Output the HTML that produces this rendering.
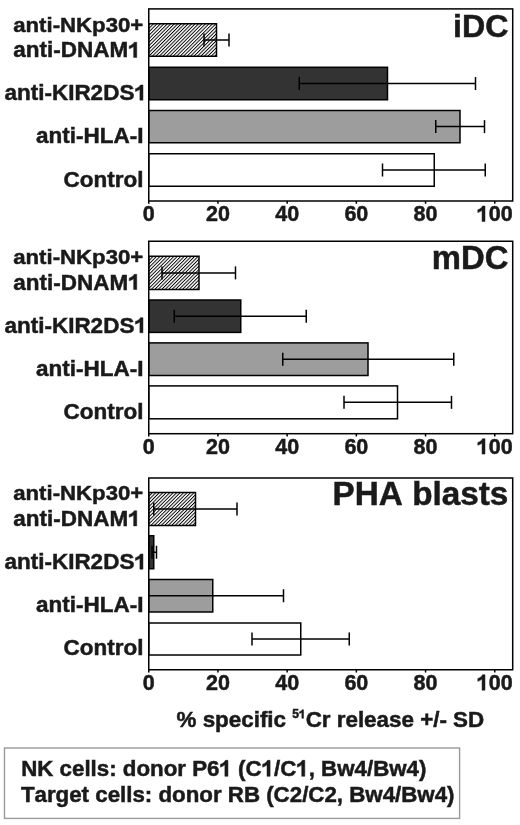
<!DOCTYPE html>
<html><head><meta charset="utf-8"><style>
html,body{margin:0;padding:0;background:#fff;}
body{width:520px;height:825px;overflow:hidden;}
svg{display:block;will-change:transform;}
text{font-family:"Liberation Sans", sans-serif;font-weight:bold;font-kerning:none;fill:#1a1a1a;stroke:#1a1a1a;stroke-width:0.5px;}
.tk{font-size:21.5px;}
.ti{font-size:33.2px;}
.lb{font-size:22.5px;}
.l1{font-size:22.2px;}
.xt{font-size:22.4px;}
.lg{font-size:22.3px;}
.one{fill:transparent;stroke:transparent;}
.o1{fill:#1a1a1a;stroke:#1a1a1a;stroke-width:0.5px;}
</style></head><body>
<svg width="520" height="825" viewBox="0 0 520 825">
<defs>
<pattern id="hatch" patternUnits="userSpaceOnUse" width="2.45" height="2.45" patternTransform="rotate(45)">
<rect width="2.45" height="2.45" fill="#fff"/>
<rect width="0.95" height="2.45" fill="#000"/>
</pattern>
</defs>
<rect width="520" height="825" fill="#fff"/>
<rect x="148.75" y="23.75" width="67.75" height="32.50" fill="url(#hatch)" stroke="#000" stroke-width="1.5"/>
<rect x="148.75" y="67.3" width="238.75" height="32.45" fill="#333333" stroke="#000" stroke-width="1.5"/>
<rect x="148.75" y="110.5" width="311.25" height="32.25" fill="#9d9d9d" stroke="#000" stroke-width="1.5"/>
<rect x="148.75" y="153.75" width="285.50" height="32.50" fill="#ffffff" stroke="#000" stroke-width="1.5"/>
<line x1="204.0" y1="40.00" x2="229.0" y2="40.00" stroke="#000" stroke-width="1.5"/>
<line x1="204.0" y1="33.50" x2="204.0" y2="46.50" stroke="#000" stroke-width="1.5"/>
<line x1="229.0" y1="33.50" x2="229.0" y2="46.50" stroke="#000" stroke-width="1.5"/>
<line x1="299.25" y1="83.53" x2="475.5" y2="83.53" stroke="#000" stroke-width="1.5"/>
<line x1="299.25" y1="77.03" x2="299.25" y2="90.03" stroke="#000" stroke-width="1.5"/>
<line x1="475.5" y1="77.03" x2="475.5" y2="90.03" stroke="#000" stroke-width="1.5"/>
<line x1="435.75" y1="126.62" x2="484.5" y2="126.62" stroke="#000" stroke-width="1.5"/>
<line x1="435.75" y1="120.12" x2="435.75" y2="133.12" stroke="#000" stroke-width="1.5"/>
<line x1="484.5" y1="120.12" x2="484.5" y2="133.12" stroke="#000" stroke-width="1.5"/>
<line x1="382.5" y1="170.00" x2="485.25" y2="170.00" stroke="#000" stroke-width="1.5"/>
<line x1="382.5" y1="163.50" x2="382.5" y2="176.50" stroke="#000" stroke-width="1.5"/>
<line x1="485.25" y1="163.50" x2="485.25" y2="176.50" stroke="#000" stroke-width="1.5"/>
<rect x="148.75" y="8.9" width="363.95" height="192.10" fill="none" stroke="#000" stroke-width="1.5"/>
<line x1="148.75" y1="201.0" x2="148.75" y2="203.8" stroke="#000" stroke-width="1.5"/>
<text transform="translate(148.75 221.40) scale(1 1.0)" x="0" y="0" text-anchor="middle" class="tk">0</text>
<line x1="217.95" y1="201.0" x2="217.95" y2="203.8" stroke="#000" stroke-width="1.5"/>
<text transform="translate(217.95 221.40) scale(1 1.0)" x="0" y="0" text-anchor="middle" class="tk">20</text>
<line x1="287.15" y1="201.0" x2="287.15" y2="203.8" stroke="#000" stroke-width="1.5"/>
<text transform="translate(287.15 221.40) scale(1 1.0)" x="0" y="0" text-anchor="middle" class="tk">40</text>
<line x1="356.35" y1="201.0" x2="356.35" y2="203.8" stroke="#000" stroke-width="1.5"/>
<text transform="translate(356.35 221.40) scale(1 1.0)" x="0" y="0" text-anchor="middle" class="tk">60</text>
<line x1="425.55" y1="201.0" x2="425.55" y2="203.8" stroke="#000" stroke-width="1.5"/>
<text transform="translate(425.55 221.40) scale(1 1.0)" x="0" y="0" text-anchor="middle" class="tk">80</text>
<line x1="494.75" y1="201.0" x2="494.75" y2="203.8" stroke="#000" stroke-width="1.5"/>
<text transform="translate(494.75 221.40) scale(1 1.0)" x="0" y="0" text-anchor="middle" class="tk"><tspan class="one">1</tspan>00</text>
<text transform="translate(508.40 36.60) scale(1 1.0)" x="0" y="0" text-anchor="end" class="ti" style="font-size:32.2px">iDC</text>
<text transform="translate(13.20 31.65) scale(1 0.94)" x="0" y="0" class="lb l1">anti-NKp30<tspan dy="0.7">+</tspan></text>
<text transform="translate(13.20 57.40) scale(1 0.94)" x="0" y="0" class="lb">anti-DNAM<tspan class="one">1</tspan></text>
<text transform="translate(146.90 100.15) scale(1 0.94)" x="0" y="0" text-anchor="end" class="lb">anti-KIR2DS<tspan class="one">1</tspan></text>
<text transform="translate(143.50 143.15) scale(1 0.94)" x="0" y="0" text-anchor="end" class="lb">anti-HLA-I</text>
<text transform="translate(143.50 186.65) scale(1 0.94)" x="0" y="0" text-anchor="end" class="lb">Control</text>
<rect x="148.75" y="256.25" width="50.25" height="33.25" fill="url(#hatch)" stroke="#000" stroke-width="1.5"/>
<rect x="148.75" y="300.0" width="92.00" height="32.40" fill="#333333" stroke="#000" stroke-width="1.5"/>
<rect x="148.75" y="342.9" width="219.25" height="32.60" fill="#9d9d9d" stroke="#000" stroke-width="1.5"/>
<rect x="148.75" y="385.9" width="248.75" height="32.90" fill="#ffffff" stroke="#000" stroke-width="1.5"/>
<line x1="162.0" y1="272.88" x2="235.5" y2="272.88" stroke="#000" stroke-width="1.5"/>
<line x1="162.0" y1="266.38" x2="162.0" y2="279.38" stroke="#000" stroke-width="1.5"/>
<line x1="235.5" y1="266.38" x2="235.5" y2="279.38" stroke="#000" stroke-width="1.5"/>
<line x1="174.25" y1="316.20" x2="306.25" y2="316.20" stroke="#000" stroke-width="1.5"/>
<line x1="174.25" y1="309.70" x2="174.25" y2="322.70" stroke="#000" stroke-width="1.5"/>
<line x1="306.25" y1="309.70" x2="306.25" y2="322.70" stroke="#000" stroke-width="1.5"/>
<line x1="282.75" y1="359.20" x2="453.75" y2="359.20" stroke="#000" stroke-width="1.5"/>
<line x1="282.75" y1="352.70" x2="282.75" y2="365.70" stroke="#000" stroke-width="1.5"/>
<line x1="453.75" y1="352.70" x2="453.75" y2="365.70" stroke="#000" stroke-width="1.5"/>
<line x1="344.0" y1="402.35" x2="451.5" y2="402.35" stroke="#000" stroke-width="1.5"/>
<line x1="344.0" y1="395.85" x2="344.0" y2="408.85" stroke="#000" stroke-width="1.5"/>
<line x1="451.5" y1="395.85" x2="451.5" y2="408.85" stroke="#000" stroke-width="1.5"/>
<rect x="148.75" y="241.25" width="363.95" height="192.45" fill="none" stroke="#000" stroke-width="1.5"/>
<line x1="148.75" y1="433.7" x2="148.75" y2="436.5" stroke="#000" stroke-width="1.5"/>
<text transform="translate(148.75 454.10) scale(1 1.0)" x="0" y="0" text-anchor="middle" class="tk">0</text>
<line x1="217.95" y1="433.7" x2="217.95" y2="436.5" stroke="#000" stroke-width="1.5"/>
<text transform="translate(217.95 454.10) scale(1 1.0)" x="0" y="0" text-anchor="middle" class="tk">20</text>
<line x1="287.15" y1="433.7" x2="287.15" y2="436.5" stroke="#000" stroke-width="1.5"/>
<text transform="translate(287.15 454.10) scale(1 1.0)" x="0" y="0" text-anchor="middle" class="tk">40</text>
<line x1="356.35" y1="433.7" x2="356.35" y2="436.5" stroke="#000" stroke-width="1.5"/>
<text transform="translate(356.35 454.10) scale(1 1.0)" x="0" y="0" text-anchor="middle" class="tk">60</text>
<line x1="425.55" y1="433.7" x2="425.55" y2="436.5" stroke="#000" stroke-width="1.5"/>
<text transform="translate(425.55 454.10) scale(1 1.0)" x="0" y="0" text-anchor="middle" class="tk">80</text>
<line x1="494.75" y1="433.7" x2="494.75" y2="436.5" stroke="#000" stroke-width="1.5"/>
<text transform="translate(494.75 454.10) scale(1 1.0)" x="0" y="0" text-anchor="middle" class="tk"><tspan class="one">1</tspan>00</text>
<text transform="translate(508.40 268.50) scale(1 1.0)" x="0" y="0" text-anchor="end" class="ti" style="font-size:32.8px">mDC</text>
<text transform="translate(13.20 263.70) scale(1 0.94)" x="0" y="0" class="lb l1">anti-NKp30<tspan dy="0.7">+</tspan></text>
<text transform="translate(13.20 289.50) scale(1 0.94)" x="0" y="0" class="lb">anti-DNAM<tspan class="one">1</tspan></text>
<text transform="translate(146.90 332.80) scale(1 0.94)" x="0" y="0" text-anchor="end" class="lb">anti-KIR2DS<tspan class="one">1</tspan></text>
<text transform="translate(143.50 375.90) scale(1 0.94)" x="0" y="0" text-anchor="end" class="lb">anti-HLA-I</text>
<text transform="translate(143.50 419.20) scale(1 0.94)" x="0" y="0" text-anchor="end" class="lb">Control</text>
<rect x="148.75" y="492.5" width="46.75" height="33.00" fill="url(#hatch)" stroke="#000" stroke-width="1.5"/>
<rect x="148.75" y="535.75" width="5.00" height="33.00" fill="#333333" stroke="#000" stroke-width="1.5"/>
<rect x="148.75" y="579.5" width="64.00" height="32.50" fill="#9d9d9d" stroke="#000" stroke-width="1.5"/>
<rect x="148.75" y="623.0" width="152.00" height="32.00" fill="#ffffff" stroke="#000" stroke-width="1.5"/>
<line x1="153.75" y1="509.00" x2="237.0" y2="509.00" stroke="#000" stroke-width="1.5"/>
<line x1="153.75" y1="502.50" x2="153.75" y2="515.50" stroke="#000" stroke-width="1.5"/>
<line x1="237.0" y1="502.50" x2="237.0" y2="515.50" stroke="#000" stroke-width="1.5"/>
<line x1="152.0" y1="552.25" x2="156.5" y2="552.25" stroke="#000" stroke-width="1.5"/>
<line x1="152.0" y1="545.75" x2="152.0" y2="558.75" stroke="#000" stroke-width="1.5"/>
<line x1="156.5" y1="545.75" x2="156.5" y2="558.75" stroke="#000" stroke-width="1.5"/>
<line x1="148.75" y1="595.75" x2="283.5" y2="595.75" stroke="#000" stroke-width="1.5"/>
<line x1="283.5" y1="589.25" x2="283.5" y2="602.25" stroke="#000" stroke-width="1.5"/>
<line x1="252.0" y1="639.00" x2="349.25" y2="639.00" stroke="#000" stroke-width="1.5"/>
<line x1="252.0" y1="632.50" x2="252.0" y2="645.50" stroke="#000" stroke-width="1.5"/>
<line x1="349.25" y1="632.50" x2="349.25" y2="645.50" stroke="#000" stroke-width="1.5"/>
<rect x="148.75" y="478.0" width="363.95" height="191.75" fill="none" stroke="#000" stroke-width="1.5"/>
<line x1="148.75" y1="669.75" x2="148.75" y2="672.55" stroke="#000" stroke-width="1.5"/>
<text transform="translate(148.75 690.15) scale(1 1.0)" x="0" y="0" text-anchor="middle" class="tk">0</text>
<line x1="217.95" y1="669.75" x2="217.95" y2="672.55" stroke="#000" stroke-width="1.5"/>
<text transform="translate(217.95 690.15) scale(1 1.0)" x="0" y="0" text-anchor="middle" class="tk">20</text>
<line x1="287.15" y1="669.75" x2="287.15" y2="672.55" stroke="#000" stroke-width="1.5"/>
<text transform="translate(287.15 690.15) scale(1 1.0)" x="0" y="0" text-anchor="middle" class="tk">40</text>
<line x1="356.35" y1="669.75" x2="356.35" y2="672.55" stroke="#000" stroke-width="1.5"/>
<text transform="translate(356.35 690.15) scale(1 1.0)" x="0" y="0" text-anchor="middle" class="tk">60</text>
<line x1="425.55" y1="669.75" x2="425.55" y2="672.55" stroke="#000" stroke-width="1.5"/>
<text transform="translate(425.55 690.15) scale(1 1.0)" x="0" y="0" text-anchor="middle" class="tk">80</text>
<line x1="494.75" y1="669.75" x2="494.75" y2="672.55" stroke="#000" stroke-width="1.5"/>
<text transform="translate(494.75 690.15) scale(1 1.0)" x="0" y="0" text-anchor="middle" class="tk"><tspan class="one">1</tspan>00</text>
<text transform="translate(508.40 504.80) scale(1 1.0)" x="0" y="0" text-anchor="end" class="ti" style="font-size:33.3px">PHA blasts</text>
<text transform="translate(13.20 499.80) scale(1 0.94)" x="0" y="0" class="lb l1">anti-NKp30<tspan dy="0.7">+</tspan></text>
<text transform="translate(13.20 525.90) scale(1 0.94)" x="0" y="0" class="lb">anti-DNAM<tspan class="one">1</tspan></text>
<text transform="translate(146.90 569.15) scale(1 0.94)" x="0" y="0" text-anchor="end" class="lb">anti-KIR2DS<tspan class="one">1</tspan></text>
<text transform="translate(143.50 612.40) scale(1 0.94)" x="0" y="0" text-anchor="end" class="lb">anti-HLA-I</text>
<text transform="translate(143.50 655.40) scale(1 0.94)" x="0" y="0" text-anchor="end" class="lb">Control</text>
<text transform="translate(176.50 726.50) scale(1 1.0)" x="0" y="0" class="xt">% specific <tspan font-size="12" dy="-8.2">5<tspan class="one">1</tspan></tspan><tspan dy="8.2">Cr release +/- SD</tspan></text>
<rect x="4.5" y="748" width="455.1" height="70.4" fill="none" stroke="#9a9a9a" stroke-width="1.4"/>
<text transform="translate(21.20 776.30) scale(1 1.0)" x="0" y="0" class="lg">NK cells: donor P6<tspan class="one">1</tspan> (C<tspan class="one">1</tspan>/C<tspan class="one">1</tspan>, Bw4/Bw4)</text>
<text transform="translate(20.90 801.60) scale(1 1.0)" x="0" y="0" class="lg">Target cells: donor RB (C2/C2, Bw4/Bw4)</text>
<g transform="translate(494.75 221.40) scale(1 1.0)"><path class="o1" d="M-9.75 0.00L-12.70 0.00L-12.70 -11.04Q-14.31 -9.53 -16.95 -8.81L-16.95 -11.65Q-15.50 -12.07 -14.10 -13.12Q-12.71 -14.17 -12.19 -15.39L-9.75 -15.39Z"/></g>
<g transform="translate(13.20 57.40) scale(1 0.94)"><path class="o1" d="M123.54 0.00L120.45 0.00L120.45 -11.56Q118.76 -9.98 116.00 -9.22L116.00 -12.19Q117.52 -12.63 118.98 -13.73Q120.44 -14.83 120.98 -16.11L123.54 -16.11Z"/></g>
<g transform="translate(146.90 100.15) scale(1 0.94)"><path class="o1" d="M-3.93 0.00L-7.02 0.00L-7.02 -11.56Q-8.71 -9.98 -11.47 -9.22L-11.47 -12.19Q-9.95 -12.63 -8.49 -13.73Q-7.03 -14.83 -6.49 -16.11L-3.93 -16.11Z"/></g>
<g transform="translate(494.75 454.10) scale(1 1.0)"><path class="o1" d="M-9.75 0.00L-12.70 0.00L-12.70 -11.04Q-14.31 -9.53 -16.95 -8.81L-16.95 -11.65Q-15.50 -12.07 -14.10 -13.12Q-12.71 -14.17 -12.19 -15.39L-9.75 -15.39Z"/></g>
<g transform="translate(13.20 289.50) scale(1 0.94)"><path class="o1" d="M123.54 0.00L120.45 0.00L120.45 -11.56Q118.76 -9.98 116.00 -9.22L116.00 -12.19Q117.52 -12.63 118.98 -13.73Q120.44 -14.83 120.98 -16.11L123.54 -16.11Z"/></g>
<g transform="translate(146.90 332.80) scale(1 0.94)"><path class="o1" d="M-3.93 0.00L-7.02 0.00L-7.02 -11.56Q-8.71 -9.98 -11.47 -9.22L-11.47 -12.19Q-9.95 -12.63 -8.49 -13.73Q-7.03 -14.83 -6.49 -16.11L-3.93 -16.11Z"/></g>
<g transform="translate(494.75 690.15) scale(1 1.0)"><path class="o1" d="M-9.75 0.00L-12.70 0.00L-12.70 -11.04Q-14.31 -9.53 -16.95 -8.81L-16.95 -11.65Q-15.50 -12.07 -14.10 -13.12Q-12.71 -14.17 -12.19 -15.39L-9.75 -15.39Z"/></g>
<g transform="translate(13.20 525.90) scale(1 0.94)"><path class="o1" d="M123.54 0.00L120.45 0.00L120.45 -11.56Q118.76 -9.98 116.00 -9.22L116.00 -12.19Q117.52 -12.63 118.98 -13.73Q120.44 -14.83 120.98 -16.11L123.54 -16.11Z"/></g>
<g transform="translate(146.90 569.15) scale(1 0.94)"><path class="o1" d="M-3.93 0.00L-7.02 0.00L-7.02 -11.56Q-8.71 -9.98 -11.47 -9.22L-11.47 -12.19Q-9.95 -12.63 -8.49 -13.73Q-7.03 -14.83 -6.49 -16.11L-3.93 -16.11Z"/></g>
<g transform="translate(176.50 726.50) scale(1 1.0)"><path class="o1" d="M127.01 -8.20L125.37 -8.20L125.37 -14.36Q124.46 -13.52 122.99 -13.12L122.99 -14.70Q123.80 -14.94 124.58 -15.52Q125.36 -16.11 125.65 -16.79L127.01 -16.79Z"/></g>
<g transform="translate(21.20 776.30) scale(1 1.0)"><path class="o1" d="M206.74 0.00L203.68 0.00L203.68 -11.45Q202.00 -9.89 199.27 -9.14L199.27 -12.09Q200.77 -12.52 202.22 -13.61Q203.67 -14.70 204.20 -15.96L206.74 -15.96Z"/></g>
<g transform="translate(21.20 776.30) scale(1 1.0)"><path class="o1" d="M248.88 0.00L245.82 0.00L245.82 -11.45Q244.14 -9.89 241.41 -9.14L241.41 -12.09Q242.91 -12.52 244.36 -13.61Q245.81 -14.70 246.34 -15.96L248.88 -15.96Z"/></g>
<g transform="translate(21.20 776.30) scale(1 1.0)"><path class="o1" d="M283.60 0.00L280.54 0.00L280.54 -11.45Q278.86 -9.89 276.13 -9.14L276.13 -12.09Q277.63 -12.52 279.08 -13.61Q280.53 -14.70 281.06 -15.96L283.60 -15.96Z"/></g>
</svg>
</body></html>
